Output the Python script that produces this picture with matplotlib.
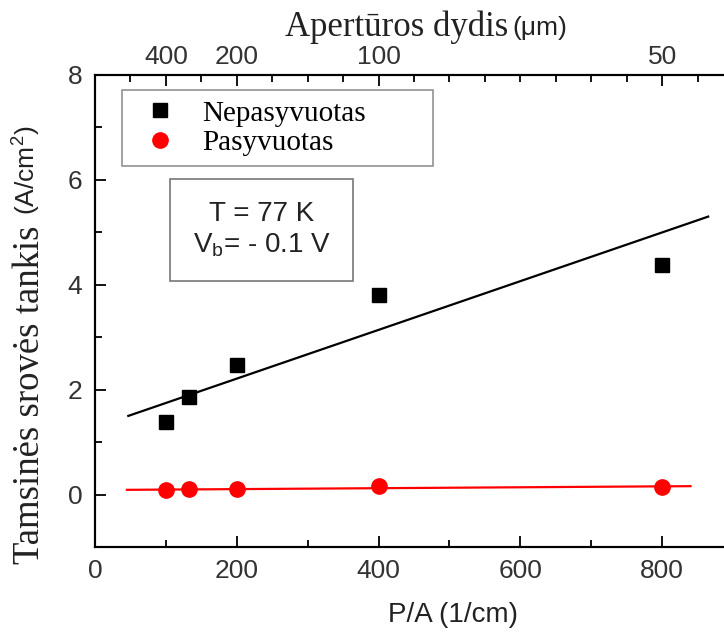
import numpy as np
import matplotlib.pyplot as plt
from matplotlib.ticker import FixedLocator

# data
pa = [100, 133, 200, 400, 800]                      # P/A (1/cm)
nepasyvuotas = [1.39, 1.86, 2.47, 3.81, 4.38]       # A/cm^2
pasyvuotas = [0.09, 0.10, 0.11, 0.16, 0.14]         # A/cm^2

fit_black_x = [47, 865]
fit_black_y = [1.50, 5.30]
fit_red_x = [45, 840]
fit_red_y = [0.09, 0.16]

top_ticks = [100, 200, 400, 800]
top_labels = ["400", "200", "100", "50"]

serif = "Liberation Serif"
sans = ["Liberation Sans Narrow", "Liberation Sans"]

W, H = 724, 632
fig = plt.figure(figsize=(W / 100, H / 100), dpi=100)
ax = fig.add_axes([95 / W, 85 / H, 638 / W, 472 / H])

ax.plot(fit_black_x, fit_black_y, color="black", lw=1.6)
ax.plot(fit_red_x, fit_red_y, color="red", lw=1.6)
ax.plot(pa, nepasyvuotas, ls="none", marker="s", ms=10, color="black",
        label="Nepasyvuotas")
ax.plot(pa, pasyvuotas, ls="none", marker="o", ms=11, color="red",
        label="Pasyvuotas")

ax.set_xlim(0, 900)
ax.set_ylim(-1, 8)
ax.set_xticks([0, 200, 400, 600, 800])
ax.set_xticks([100, 300, 500, 700], minor=True)
ax.set_yticks([0, 2, 4, 6, 8])
ax.set_yticks([-1, 1, 3, 5, 7], minor=True)
ax.tick_params(which="both", direction="in", width=1.3, labelsize=19,
               color="black")
ax.tick_params(which="major", length=8, pad=9)
ax.tick_params(which="minor", length=5)
for lab in ax.get_xticklabels() + ax.get_yticklabels():
    lab.set_family(sans)
    lab.set_color("#333333")
for s in ax.spines.values():
    s.set_linewidth(1.5)

# top axis: aperture size
ax2 = ax.twiny()
ax2.set_xlim(ax.get_xlim())
ax2.set_xticks(top_ticks)
ax2.set_xticklabels(top_labels)
ax2.xaxis.set_minor_locator(FixedLocator([50, 150, 250, 300, 350, 450, 500,
                                          550, 600, 650, 700, 750, 850]))
ax2.tick_params(which="both", direction="in", width=1.3, labelsize=19)
ax2.tick_params(which="major", length=8, pad=4)
ax2.tick_params(which="minor", length=5)
for lab in ax2.get_xticklabels():
    lab.set_family(sans)
    lab.set_color("#333333")
for s in ax2.spines.values():
    s.set_linewidth(1.5)

leg = ax.legend(loc="upper left",
                bbox_to_anchor=(27 / 638, 1 - 15 / 472, 311 / 638, 0),
                mode="expand",
                prop={"family": serif, "size": 21}, frameon=True,
                fancybox=False, edgecolor="#777777", borderpad=0.35,
                handletextpad=0.5, labelspacing=0.1, handlelength=1.9,
                borderaxespad=0)
leg.get_frame().set_linewidth(1.2)
leg.set_zorder(5)

# condition box
ax.text(235, 5.05, "T = 77 K\nV$_\\mathregular{b}$= - 0.1 V",
        family=sans, size=20, color="#222222", ha="center", va="center",
        linespacing=1.2,
        bbox=dict(boxstyle="square,pad=0.8", fc="white", ec="#777777",
                  lw=1.2))

# axis titles
fig.text(30 / W, 1 - 395 / H, "Tamsinės srovės tankis", family=serif,
         size=26.5, rotation=90, ha="center", va="center", color="#222222")
fig.text(26 / W, 1 - 170 / H, "(A/cm$^\\mathregular{2}$)", family=sans,
         size=19, rotation=90, ha="center", va="center", color="#222222")
fig.text(453 / W, 1 - 615 / H, "P/A (1/cm)", family=sans, size=20,
         ha="center", va="center", color="#222222")
fig.text(508 / W, 1 - 27 / H, "Apertūros dydis", family=serif, size=25,
         ha="right", va="center", color="#222222")
fig.text(512 / W, 1 - 28 / H, "(\u03bcm)", family=sans, size=19,
         ha="left", va="center", color="#222222")

fig.savefig("out.png", dpi=100)
